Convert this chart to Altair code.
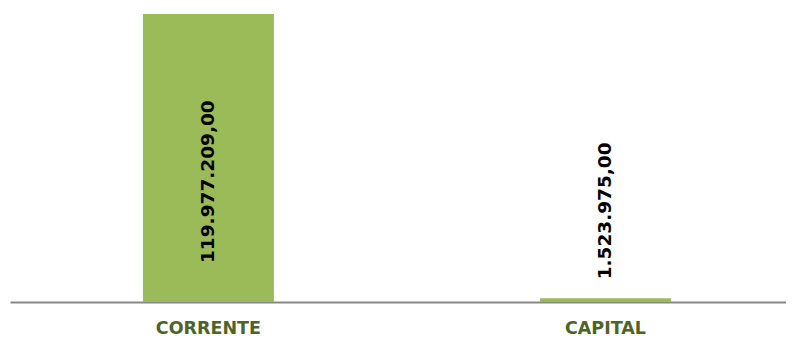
import altair as alt
import pandas as pd

categories = ["CORRENTE", "CAPITAL"]
values = [119977209.00, 1523975.00]
labels = ["119.977.209,00", "1.523.975,00"]

df = pd.DataFrame({"cat": categories, "value": values, "label": labels})

x_enc = alt.X(
    "cat:N",
    sort=categories,
    title=None,
    scale=alt.Scale(paddingInner=0.67, paddingOuter=0.3123, align=0.536),
    axis=alt.Axis(
        labelAngle=0,
        ticks=False,
        tickSize=0,
        domainColor="#878787",
        domainWidth=2,
        labelFont="DejaVu Sans",
        labelFontWeight="bold",
        labelFontSize=17.5,
        labelColor="#4F6228",
        labelBaseline="alphabetic",
        labelPadding=31,
        grid=False,
    ),
)
y_scale = alt.Scale(domain=[0, 122500000], nice=False, zero=True)

base = alt.Chart(df)

bars = base.mark_bar(color="#9BBB59").encode(
    x=x_enc,
    y=alt.Y("value:Q", scale=y_scale, axis=None),
)

text_style = dict(
    angle=270,
    align="left",
    baseline="middle",
    font="DejaVu Sans",
    fontWeight="bold",
    fontSize=18.5,
    color="#000000",
)

# label of the tall bar, drawn inside the bar from near its base
label1 = base.transform_filter(alt.datum.cat == "CORRENTE").mark_text(dx=39, **text_style).encode(
    x=alt.X("cat:N", sort=categories),
    y=alt.YDatum(0, type="quantitative"),
    text="label:N",
)

# label of the short bar, drawn just above its top
label2 = base.transform_filter(alt.datum.cat == "CAPITAL").mark_text(dx=19, **text_style).encode(
    x=alt.X("cat:N", sort=categories),
    y=alt.Y("value:Q"),
    text="label:N",
)

chart = (
    alt.layer(bars, label1, label2)
    .properties(
        width=776,
        height=294,
        autosize=alt.AutoSizeParams(type="none"),
        padding={"left": 2, "top": 0, "right": 0, "bottom": 36},
    )
    .configure(background="white")
    .configure_view(strokeWidth=0, stroke="transparent")
)

chart.save("out.html", embed_options={"renderer": "svg", "actions": False})
